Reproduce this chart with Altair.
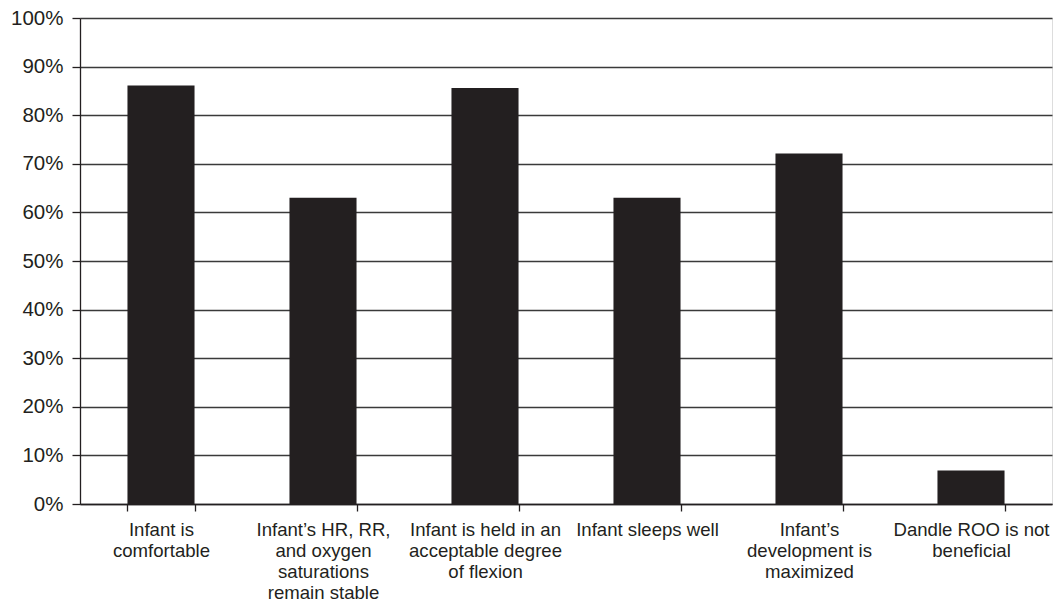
import altair as alt
import pandas as pd

# Survey responses: share of respondents agreeing with each statement
categories = [
    "Infant is comfortable",
    "Infant's HR, RR, and oxygen saturations remain stable",
    "Infant is held in an acceptable degree of flexion",
    "Infant sleeps well",
    "Infant's development is maximized",
    "Dandle ROO is not beneficial",
]
# Wrapped axis labels (lines separated by "|")
label_lines = [
    "Infant is|comfortable",
    "Infant\u2019s HR, RR,|and oxygen|saturations|remain stable",
    "Infant is held in an|acceptable degree|of flexion",
    "Infant sleeps well",
    "Infant\u2019s|development is|maximized",
    "Dandle ROO is not|beneficial",
]
percent = [86.1, 63.0, 85.6, 63.0, 72.1, 6.9]
y_ticks = [0, 10, 20, 30, 40, 50, 60, 70, 80, 90, 100]

df = pd.DataFrame({"category": categories, "label": label_lines, "value": [p / 100 for p in percent]})

label_map = {c: l for c, l in zip(categories, label_lines)}
label_expr = " : ".join(
    [f"datum.value == {repr(c)} ? split({repr(l)}, '|')" for c, l in label_map.items()]
) + " : datum.label"

FONT = "Liberation Sans"
INK = "#231f20"

chart = (
    alt.Chart(df)
    .mark_bar(color=INK)
    .encode(
        x=alt.X(
            "category:N",
            sort=categories,
            scale=alt.Scale(paddingInner=0.586, paddingOuter=0.293),
            axis=alt.Axis(
                title=None,
                labelAngle=0,
                labelExpr=label_expr,
                labelFont=FONT,
                labelFontSize=18.6,
                labelColor=INK,
                labelLineHeight=21,
                labelPadding=9,
                labelAlign="center",
                labelBaseline="top",
                tickBand="extent",
                tickSize=7,
                tickColor=INK,
                tickWidth=1.3,
                domainColor=INK,
                domainWidth=1.3,
                grid=False,
                labelLimit=220,
            ),
        ),
        y=alt.Y(
            "value:Q",
            scale=alt.Scale(domain=[0, 1], nice=False),
            axis=alt.Axis(
                title=None,
                values=[t / 100 for t in y_ticks],
                format=".0%",
                labelFont=FONT,
                labelFontSize=20.5,
                labelColor=INK,
                labelPadding=9,
                tickSize=8,
                tickColor=INK,
                tickWidth=1.3,
                domainColor=INK,
                domainWidth=1.3,
                grid=True,
                gridColor="#3a3a3a",
                gridWidth=1.3,
            ),
        ),
    )
    .properties(
        width=972,
        height=486,
        autosize=alt.AutoSizeParams(type="none"),
        padding={"left": 80, "top": 18, "right": 2, "bottom": 99},
    )
    .configure_view(stroke=None)
    .configure(background="white")
)

chart.save("out.html", embed_options={"renderer": "svg", "actions": False})
